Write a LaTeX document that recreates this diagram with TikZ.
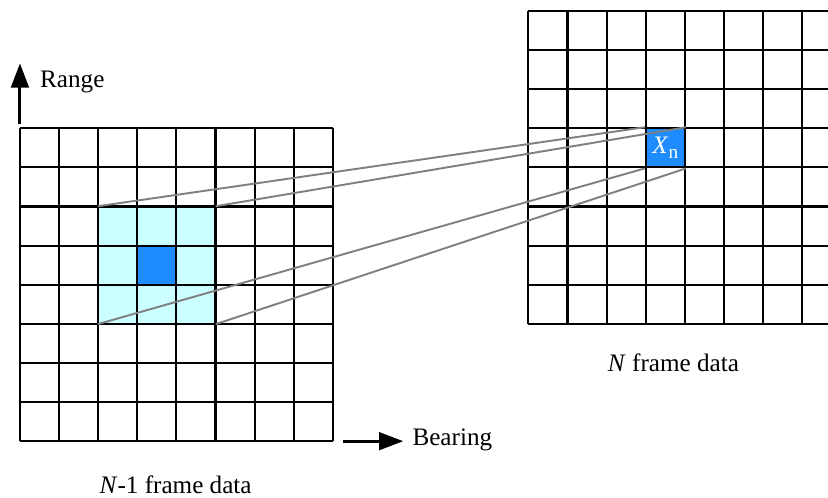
\documentclass[tikz,border=0pt]{standalone}
\usepackage{fontspec}
\setmainfont{Liberation Serif}
\usetikzlibrary{arrows.meta}
\definecolor{winfill}{HTML}{CCFFFF}
\definecolor{cellfill}{HTML}{1E8CFF}
\tikzstyle{cell}=[draw=black,line width=1.5pt,fill=cellfill,minimum size=1cm,inner sep=0pt]
\tikzstyle{window}=[fill=winfill,minimum size=3cm,inner sep=0pt]
\tikzstyle{ray}=[draw=black!50,line width=1.4pt]
\tikzstyle{axis}=[line width=2.2pt,-{Triangle[length=0.62cm,width=0.45cm]}]
\tikzstyle{label}=[inner sep=0pt,font=\rmfamily\fontsize{18.3}{22}\selectfont]

\begin{document}
\begin{tikzpicture}
      \useasboundingbox (-0.51,-1.43) rectangle (20.66,11.28);
      \clip (-0.51,-1.43) rectangle (20.66,11.28);
      % N-1 frame
      \node[window] (win) at (3.5, 4.5) {};
      \node[cell] (c0) at (3.5, 4.5) {};
      \draw[line width=1.5pt] (0, 0) grid (8, 8);
      % N frame
      \draw[line width=1.5pt] (13, 3) grid (21, 11);
      \node[cell,text=white,font=\rmfamily\fontsize{18.3}{22}\selectfont] (xn) at (16.5, 7.5)
        {\textit{X}\raisebox{-0.4ex}{\fontsize{14}{16}\selectfont n}};
      \draw[ray] (win.north west) -- (xn.north west);
      \draw[ray] (win.north east) -- (xn.north east);
      \draw[ray] (win.south west) -- (xn.south west);
      \draw[ray] (win.south east) -- (xn.south east);
      % axes
      \coordinate (r0) at (0, 8.1);
      \coordinate (r1) at (0, 9.66);
      \coordinate (b0) at (8.26, 0);
      \coordinate (b1) at (9.8, 0);
      \draw[axis] (r0) -- (r1);
      \draw[axis] (b0) -- (b1);
      \node[label,anchor=base west] (range) at (0.51, 9.03) {Range};
      \node[label,anchor=base west] (bearing) at (10.03, -0.1) {Bearing};
      \node[label,anchor=base] (prev) at (3.98, -1.33) {\textit{N}-1 frame data};
      \node[label,anchor=base] (curr) at (16.71, 1.77) {\textit{N} frame data};
    \end{tikzpicture}
\end{document}
